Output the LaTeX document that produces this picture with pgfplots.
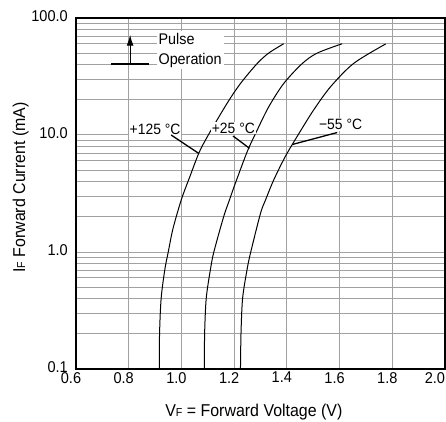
\documentclass[border=0pt]{standalone}
\usepackage{fontspec}
\setmainfont{Liberation Sans}[FakeStretch=0.93]
\usepackage{pgfplots}
\pgfplotsset{compat=1.18}
\usetikzlibrary{arrows.meta}
\newcommand{\sub}[1]{{\fontsize{11.5}{11.5}\selectfont #1}}
\newcommand{\tickfont}{\fontsize{15.7}{18}\selectfont}
\newcommand{\labfont}{\fontsize{17.2}{20}\selectfont}
\newcommand{\notefont}{\fontsize{15}{18}\selectfont}
\begin{document}
\begin{tikzpicture}
\begin{axis}[
  scale only axis, width=369bp, height=351bp,
  xmin=0.6, xmax=2.0,
  ymode=log, ymin=0.1, ymax=100,
  xtick={0.6,0.8,1.0,1.2,1.4,1.6,1.8,2.0},
  xticklabels={0.6,0.8,1.0,1.2,1.4,1.6,1.8,\llap{2.0\kern-5bp}},
  ytick={0.1,1,10,100},
  yticklabels={0.1,1.0,10.0,100.0},
  minor ytick={0.2,0.3,0.4,0.5,0.6,0.7,0.8,0.9,2,3,4,5,6,7,8,9,20,30,40,50,60,70,80,90},
  xmajorgrids, ymajorgrids, yminorgrids,
  major grid style={black!37, line width=1bp},
  minor grid style={black!37, line width=1bp},
  axis line style={line width=1.2bp},
  major tick length=0pt, minor tick length=0pt,
  tick style={draw=none},
  every tick label/.append style={font=\tickfont, inner sep=0pt},
  xticklabel style={xshift=-5bp, yshift=-3bp},
  yticklabel style={xshift=-8bp, yshift=1.5bp},
  label style={font=\labfont},
  xlabel={V\sub{F} = Forward Voltage (V)},
  ylabel={I\sub{F} Forward Current (mA)},
  xlabel style={at={(axis description cs:0.482,-0.123)}, anchor=center},
  ylabel style={at={(axis description cs:-0.150,0.517)}, anchor=center},
]
% +125 C
\addplot[black, line width=1bp, smooth, tension=0.5] coordinates {
  (0.916,0.1)(0.917,0.2)(0.923,0.4)(0.937,0.708)(0.950,1.0)(0.968,1.585)
  (1.000,2.818)(1.033,4.467)(1.067,7.079)(1.102,10)(1.173,18.62)(1.224,27.54)
  (1.287,40.74)(1.331,50.12)(1.388,60.26)
};
% +25 C
\addplot[black, line width=1bp, smooth, tension=0.5] coordinates {
  (1.087,0.1)(1.088,0.2)(1.094,0.4)(1.110,0.708)(1.123,1.0)(1.160,1.995)
  (1.183,2.818)(1.205,3.89)(1.250,7.244)(1.287,10.96)(1.331,17.38)(1.388,27.54)
  (1.458,40.74)(1.515,50.12)(1.610,60.26)
};
% -55 C
\addplot[black, line width=1bp, smooth, tension=0.5] coordinates {
  (1.224,0.1)(1.226,0.2)(1.232,0.4)(1.249,0.708)(1.263,1.0)(1.300,2.138)
  (1.320,2.818)(1.350,4.121)(1.395,6.607)(1.447,10.4)(1.502,16.41)(1.566,25.88)
  (1.654,41.02)(1.775,60)
};
% labels
\node[fill=white, inner sep=1bp, font=\notefont] at (axis cs:0.900,11.2) {+125 °C};
\node[fill=white, inner sep=1bp, font=\notefont] at (axis cs:1.197,11.5) {+25 °C};
\node[fill=white, inner sep=1bp, font=\notefont] at (axis cs:1.604,12.3) {−55 °C};
\draw[black, line width=1.3bp] (axis cs:0.961,10.0) -- (axis cs:1.065,6.98);
\draw[black, line width=1.3bp] (axis cs:1.196,9.8) -- (axis cs:1.258,7.7);
\draw[black, line width=1.3bp] (axis cs:1.591,10.5) -- (axis cs:1.421,8.3);
% pulse operation
\node[fill=white, inner sep=2bp, anchor=west, align=left,
  font=\fontsize{15.5}{20}\selectfont] at (axis cs:0.905,53.2) {Pulse\\Operation};
\draw[black, line width=1.2bp] (axis cs:0.733,40.4) -- (axis cs:0.8776,40.4);
\draw[black, line width=1.2bp, -{Latex[length=11bp,width=7bp]}] (axis cs:0.8053,40.4) -- (axis cs:0.8053,72);
\end{axis}
\pgfresetboundingbox
\path (current axis.south west) ++(-76bp,-53bp) rectangle ++(446bp,422bp);
\end{tikzpicture}
\end{document}
